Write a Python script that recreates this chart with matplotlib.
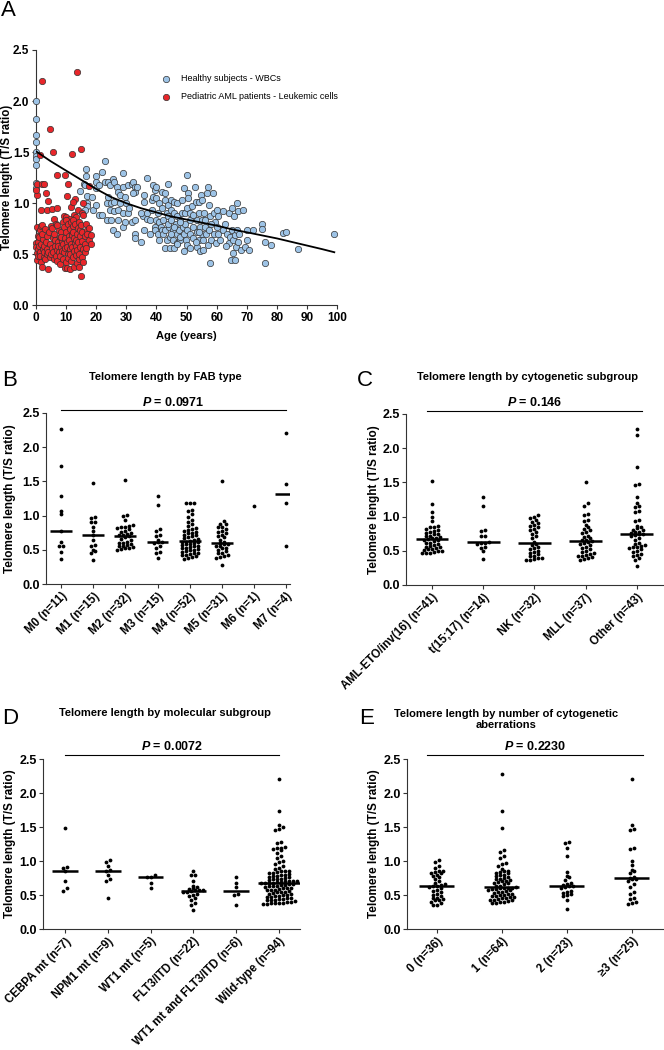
"""
Telomere length figure: age scatter (A) and per-subgroup dot plots (B-E).
"""
import numpy as np
import matplotlib
matplotlib.use("Agg")
import matplotlib.pyplot as plt

plt.rcParams["font.family"] = ["Liberation Sans", "DejaVu Sans"]
plt.rcParams["mathtext.fontset"] = "custom"
plt.rcParams["mathtext.it"] = "Liberation Sans:italic:bold"
plt.rcParams["mathtext.rm"] = "Liberation Sans:bold"

# ── Panel A: T/S ratio vs age ────────────────────────────────────────────────
healthy_points = [
    (0, 2.00), (0, 1.82), (0, 1.67), (0, 1.60), (0, 1.50), (0, 1.46), (0, 1.43),
    (0, 1.37), (0, 1.20), (0.2, 1.15),
    (14.7, 1.12), (16.7, 1.33), (16.7, 1.27), (16, 1.19), (16.5, 1.18), (17, 1.07),
    (17, 1.00), (17, 0.97), (16.5, 0.93), (19, 0.93), (20, 1.27), (20, 1.21),
    (20, 1.15), (20, 0.98), (18.5, 1.06), (21, 1.18),
    (22, 1.31), (23, 1.41), (23, 1.21), (21, 0.88), (22, 0.88), (23.5, 1.00),
    (24, 1.06), (24, 1.21), (24.6, 1.18), (25, 1.00), (24.6, 0.93), (23.5, 0.84),
    (25, 0.84), (25.7, 1.24), (26, 1.21), (27, 1.16), (26, 1.01), (26, 0.92),
    (25.7, 0.74), (27, 0.70),
    (27.4, 1.11), (28, 1.08), (28, 1.00), (27.4, 0.93), (27.4, 0.84), (29, 1.30),
    (29, 1.16), (29, 0.90), (29.6, 1.06), (29, 0.77), (30, 1.00), (29.6, 0.82),
    (30.7, 1.18), (30.7, 0.90), (31, 0.95),
    (32, 1.19), (32, 0.82), (32.4, 1.21), (33, 1.16), (33, 1.11), (33, 0.84),
    (33, 0.70), (33, 0.66), (33.5, 1.16), (32.4, 1.10), (35, 0.62), (35.7, 0.87),
    (36, 1.01), (36, 1.08), (36, 0.74), (35, 0.90),
    (37, 1.25), (37, 0.90), (37, 0.85), (38, 0.84), (38.5, 1.03), (38.5, 0.93),
    (39, 1.06), (39, 1.18), (39.6, 1.13), (40, 1.16), (39.6, 0.77), (39.6, 0.74),
    (40, 1.05), (40, 0.84), (40.7, 0.90), (40.7, 0.70), (41, 1.00), (41, 0.64),
    (41, 0.82), (41.4, 0.77), (41.8, 0.74), (42, 1.11), (42.3, 0.84), (42.3, 0.70),
    (42.7, 0.56), (43, 0.74), (43, 1.10), (43, 1.03), (43.4, 0.90), (43.4, 0.64),
    (44, 1.19), (44, 0.98), (44, 0.87), (44.3, 0.77), (44.5, 0.67), (44.5, 0.56),
    (44.9, 1.03), (38, 0.70), (42, 0.95), (44, 0.80),
    (45, 0.93), (45, 0.84), (45.6, 0.74), (45.6, 0.64), (46, 0.56), (46, 1.01),
    (46, 0.90), (46.5, 0.80), (46.7, 0.70), (46.7, 0.61), (47, 1.00), (47, 0.87),
    (47.6, 0.74), (47.8, 0.84), (47.8, 0.64), (48, 0.67), (48.4, 1.03), (48.4, 0.90),
    (48.7, 0.77), (49, 0.70), (49, 0.53), (49, 1.15), (49.5, 0.90), (49.5, 0.80),
    (49.8, 0.64), (50, 1.28), (50, 0.74), (50, 0.59), (46, 0.77), (48, 0.82),
    (50, 0.95), (47, 0.60), (45, 0.70),
    (50.6, 1.10), (50.6, 1.05), (51, 0.90), (51, 0.84), (51, 0.70), (51, 0.56),
    (51.7, 0.97), (52, 0.77), (52.3, 0.66), (52.8, 1.16), (53, 1.01), (53.4, 0.84),
    (53.4, 0.72), (53.4, 0.57), (54, 0.90), (54, 0.64), (54, 1.01), (54.5, 0.77),
    (54.5, 0.53), (54.8, 1.08), (55, 1.03), (55, 0.84), (55, 0.70), (55.4, 0.64),
    (55.6, 0.54), (55.8, 0.90), (56, 0.77), (56.5, 0.70), (56.7, 1.10), (57, 0.59),
    (57, 1.16), (57.6, 0.98), (57.6, 0.74), (57.8, 0.87), (57.8, 0.41), (58, 0.64),
    (58.7, 1.10), (59, 0.90), (59, 0.70), (59.4, 0.82), (59.8, 0.61), (60, 0.93),
    (60, 0.77), (52, 0.88), (54, 0.72), (56, 0.84), (58, 0.80), (53, 0.62),
    (60.6, 0.87), (60.6, 0.70), (61, 0.64), (62.2, 0.74), (62.8, 0.80), (63.3, 0.70),
    (64, 0.90), (64, 0.61), (64.4, 0.67), (64.6, 0.44), (65, 0.95), (65, 0.74),
    (65.3, 0.51), (65.5, 0.64), (65.9, 0.87), (66, 0.44), (66, 0.69), (66.4, 0.57),
    (66.6, 0.74), (66.9, 1.00), (67, 0.92), (67.5, 0.70), (68, 0.54), (68.6, 0.93),
    (69.4, 0.57), (70, 0.74), (70, 0.64), (70.8, 0.54), (62, 0.92), (63, 0.58),
    (67, 0.62),
    (72, 0.74), (75, 0.80), (75, 0.75), (76, 0.62), (76, 0.41), (78, 0.59),
    (82, 0.71), (83, 0.72), (87, 0.55), (99, 0.70),
]

aml_points = [
    (2.0, 2.20), (13.8, 2.28), (4.8, 1.73), (5.6, 1.50), (11.9, 1.48), (14.9, 1.53),
    (1.4, 1.47), (7.2, 1.28), (9.7, 1.28), (10.8, 1.19), (0.5, 1.19), (2.0, 1.19),
    (2.9, 1.19), (17.8, 1.17), (3.4, 1.10), (0.3, 1.08), (10.3, 1.07), (0.1, 1.13),
    (4.2, 1.02), (13.0, 1.04), (1.7, 0.93), (3.6, 0.93), (5.5, 0.94), (7.0, 0.95),
    (14.1, 0.93), (11.6, 0.96), (5.9, 0.85), (15.2, 0.90), (15.8, 1.00), (12.2, 1.01),
    (12.8, 0.88), (9.5, 0.87), (13.5, 0.86), (10.2, 0.86), (11.2, 0.85),
    (0.1, 0.61), (0.3, 0.51), (0.5, 0.77), (0.2, 0.57), (0.6, 0.55), (0.9, 0.62),
    (0.4, 0.44), (0.8, 0.48), (1.0, 0.58), (0.7, 0.68),
    (1.2, 0.67), (1.5, 0.74), (1.3, 0.52), (1.8, 0.42), (1.6, 0.60), (1.9, 0.78),
    (1.4, 0.48),
    (2.0, 0.79), (2.0, 0.38), (2.3, 0.55), (2.5, 0.65), (2.7, 0.47), (2.2, 0.70),
    (2.8, 0.58), (2.6, 0.52),
    (3.2, 0.75), (3.5, 0.62), (3.8, 0.55), (3.1, 0.45), (3.6, 0.50), (3.9, 0.68),
    (4.0, 0.36), (4.3, 0.72), (4.6, 0.60), (4.8, 0.47), (4.2, 0.52), (4.9, 0.78),
    (5.1, 0.50), (5.4, 0.56), (5.7, 0.66), (5.9, 0.45), (5.3, 0.76), (5.6, 0.52),
    (6.1, 0.70), (6.4, 0.58), (6.6, 0.48), (6.8, 0.80), (6.3, 0.64), (6.9, 0.54),
    (7.1, 0.43), (7.3, 0.62), (7.6, 0.74), (7.8, 0.52), (7.4, 0.58), (7.9, 0.67),
    (7.2, 0.79),
    (8.0, 0.40), (8.3, 0.57), (8.5, 0.72), (8.7, 0.63), (8.2, 0.48), (8.9, 0.82),
    (8.6, 0.53), (8.4, 0.67),
    (9.0, 0.60), (9.2, 0.45), (9.4, 0.77), (9.6, 0.66), (9.8, 0.37), (9.3, 0.52),
    (9.9, 0.84), (9.7, 0.56),
    (10.0, 0.72), (10.2, 0.42), (10.4, 0.62), (10.6, 0.80), (10.8, 0.50), (10.3, 0.57),
    (10.9, 0.68), (10.5, 0.37), (10.7, 0.46),
    (11.0, 0.64), (11.2, 0.55), (11.4, 0.75), (11.6, 0.43), (11.8, 0.82), (11.3, 0.36),
    (11.7, 0.60), (11.5, 0.50), (11.9, 0.69),
    (12.0, 0.57), (12.2, 0.78), (12.4, 0.47), (12.6, 0.66), (12.8, 0.38), (12.3, 0.84),
    (12.7, 0.53), (12.5, 0.72), (12.9, 0.61),
    (13.0, 0.80), (13.2, 0.49), (13.4, 0.58), (13.6, 0.70), (13.8, 0.41), (13.3, 0.64),
    (13.7, 0.54), (13.9, 0.76),
    (14.0, 0.62), (14.2, 0.45), (14.4, 0.82), (14.6, 0.57), (14.8, 0.68), (14.3, 0.38),
    (14.7, 0.74), (14.5, 0.50),
    (15.0, 0.79), (15.2, 0.47), (15.4, 0.63), (15.6, 0.55), (15.8, 0.88), (15.3, 0.72),
    (15.7, 0.42),
    (16.2, 0.68), (16.5, 0.60), (16.7, 0.80), (16.4, 0.52), (16.9, 0.74),
    (17.1, 0.70), (17.5, 0.64), (17.8, 0.76), (18.2, 0.69), (18.2, 0.60), (16.7, 0.56),
    (14.9, 0.29),
]

# fitted trend line
trend_age = [0, 5, 10, 15, 20, 25, 30, 35, 40, 45, 50, 55, 60, 65, 70, 75, 80, 85, 90, 95, 99]
trend_tsr = [1.51, 1.41, 1.32, 1.23, 1.14, 1.06, 1.00, 0.95, 0.91, 0.87, 0.84, 0.81,
             0.78, 0.745, 0.715, 0.685, 0.655, 0.62, 0.585, 0.55, 0.52]

# ── Panel B: FAB type ─────────────────────────────────────────────────────────
fab_labels = ["M0 (n=11)", "M1 (n=15)", "M2 (n=32)", "M3 (n=15)",
              "M4 (n=52)", "M5 (n=31)", "M6 (n=1)", "M7 (n=4)"]
fab_m0 = [2.27, 1.73, 1.28, 1.07, 1.02, 0.77, 0.62, 0.55, 0.55, 0.47, 0.37]
fab_m1 = [1.47, 0.98, 0.97, 0.91, 0.90, 0.84, 0.78, 0.72, 0.64, 0.57, 0.56, 0.50,
          0.48, 0.45, 0.35]
fab_m2 = [1.52, 1.01, 1.00, 0.94, 0.86, 0.85, 0.84, 0.84, 0.82, 0.80, 0.78, 0.76,
          0.74, 0.73, 0.72, 0.71, 0.70, 0.68, 0.66, 0.64, 0.62, 0.60, 0.60, 0.58,
          0.57, 0.56, 0.55, 0.54, 0.53, 0.52, 0.51, 0.50]
fab_m3 = [1.28, 1.16, 0.80, 0.78, 0.72, 0.70, 0.65, 0.62, 0.62, 0.60, 0.55, 0.53,
          0.47, 0.45, 0.38]
fab_m4 = [1.19, 1.19, 1.19, 1.08, 1.06, 1.02, 0.98, 0.93, 0.90, 0.88, 0.85, 0.82,
          0.80, 0.79, 0.78, 0.76, 0.75, 0.74, 0.72, 0.71, 0.70, 0.68, 0.67, 0.66,
          0.64, 0.63, 0.62, 0.62, 0.61, 0.60, 0.59, 0.58, 0.57, 0.56, 0.55, 0.54,
          0.53, 0.52, 0.51, 0.50, 0.49, 0.48, 0.47, 0.46, 0.45, 0.44, 0.43, 0.42,
          0.41, 0.40, 0.38, 0.37]
fab_m5 = [1.50, 0.92, 0.88, 0.87, 0.84, 0.83, 0.80, 0.78, 0.76, 0.74, 0.72, 0.70,
          0.68, 0.65, 0.62, 0.60, 0.59, 0.58, 0.56, 0.55, 0.53, 0.52, 0.50, 0.48,
          0.46, 0.45, 0.42, 0.41, 0.40, 0.38, 0.28]
fab_m6 = [1.14]
fab_m7 = [2.20, 1.46, 1.18, 0.56]

# ── Panel C: cytogenetic subgroup ─────────────────────────────────────────────
cyto_labels = ["AML-ETO/inv(16) (n=41)", "t(15;17) (n=14)", "NK (n=32)",
               "MLL (n=37)", "Other (n=43)"]
cyto_amleto = [1.52, 1.19, 1.07, 1.00, 0.94, 0.86, 0.85, 0.84, 0.82, 0.80, 0.79,
               0.78, 0.76, 0.75, 0.74, 0.72, 0.71, 0.70, 0.69, 0.68, 0.67, 0.66,
               0.65, 0.64, 0.62, 0.61, 0.60, 0.58, 0.57, 0.56, 0.55, 0.54, 0.53,
               0.52, 0.51, 0.50, 0.49, 0.48, 0.47, 0.46, 0.46]
cyto_t1517 = [1.28, 1.16, 0.80, 0.79, 0.72, 0.71, 0.63, 0.62, 0.61, 0.60, 0.56,
              0.54, 0.49, 0.38]
cyto_nk = [1.02, 1.00, 0.98, 0.95, 0.92, 0.90, 0.88, 0.86, 0.84, 0.82, 0.80, 0.78,
           0.75, 0.72, 0.68, 0.63, 0.60, 0.58, 0.56, 0.54, 0.52, 0.50, 0.48, 0.47,
           0.45, 0.43, 0.42, 0.40, 0.39, 0.38, 0.37, 0.36]
cyto_mll = [1.50, 1.20, 1.16, 1.04, 1.02, 0.95, 0.93, 0.88, 0.85, 0.82, 0.80, 0.78,
            0.76, 0.72, 0.70, 0.68, 0.66, 0.65, 0.64, 0.63, 0.62, 0.60, 0.58, 0.56,
            0.54, 0.52, 0.50, 0.48, 0.46, 0.45, 0.44, 0.43, 0.42, 0.41, 0.40, 0.38,
            0.37]
cyto_other = [2.28, 2.19, 1.73, 1.48, 1.46, 1.28, 1.20, 1.16, 1.14, 1.08, 1.07, 0.95,
              0.93, 0.86, 0.85, 0.83, 0.81, 0.80, 0.78, 0.77, 0.76, 0.75, 0.74, 0.73,
              0.71, 0.68, 0.65, 0.62, 0.60, 0.58, 0.57, 0.56, 0.55, 0.54, 0.52, 0.50,
              0.48, 0.45, 0.44, 0.42, 0.40, 0.36, 0.28]

# ── Panel D: molecular subgroup ───────────────────────────────────────────────
mol_labels = ["CEBPA mt (n=7)", "NPM1 mt (n=9)", "WT1 mt (n=5)", "FLT3/ITD (n=22)",
              "WT1 mt and FLT3/ITD (n=6)", "Wild-type (n=94)"]
mol_cebpa = [1.48, 0.91, 0.90, 0.85, 0.70, 0.60, 0.56]
mol_npm1 = [1.01, 0.99, 0.92, 0.87, 0.85, 0.80, 0.74, 0.70, 0.46]
mol_wt1 = [0.79, 0.77, 0.76, 0.67, 0.61]
mol_flt3 = [0.85, 0.80, 0.79, 0.71, 0.64, 0.62, 0.60, 0.59, 0.58, 0.57, 0.57, 0.56,
            0.55, 0.54, 0.52, 0.50, 0.48, 0.46, 0.42, 0.38, 0.36, 0.28]
mol_wt1_flt3 = [0.76, 0.68, 0.62, 0.51, 0.50, 0.36]
mol_wild = [2.20, 1.73, 1.53, 1.50, 1.47, 1.46, 1.28, 1.27, 1.20, 1.19, 1.19, 1.18,
            1.16, 1.12, 1.08, 1.05, 1.00, 0.98, 0.96, 0.92, 0.90, 0.88,
            0.86, 0.85, 0.85, 0.84, 0.83, 0.82, 0.81, 0.80, 0.79, 0.78, 0.78, 0.77,
            0.76, 0.75, 0.74, 0.74, 0.73, 0.72, 0.71, 0.71, 0.70, 0.70, 0.69, 0.69,
            0.68,
            0.68, 0.67, 0.67, 0.66, 0.66, 0.65, 0.65, 0.64, 0.63, 0.63, 0.62, 0.61,
            0.60, 0.60, 0.59, 0.58, 0.57, 0.57, 0.56, 0.55, 0.54, 0.54, 0.53, 0.52,
            0.51, 0.50, 0.50, 0.49, 0.48, 0.47, 0.47, 0.46, 0.45, 0.44, 0.44, 0.43,
            0.42, 0.42, 0.41, 0.40, 0.40, 0.39, 0.39, 0.38, 0.38, 0.37, 0.37]

# ── Panel E: number of cytogenetic aberrations ───────────────────────────────
aber_labels = ["0 (n=36)", "1 (n=64)", "2 (n=23)", "\u22653 (n=25)"]
aber_0 = [1.02, 0.99, 0.92, 0.90, 0.86, 0.85, 0.84, 0.83, 0.82, 0.80, 0.78, 0.76,
          0.73, 0.71, 0.68, 0.66, 0.65, 0.64, 0.63, 0.62, 0.60, 0.58, 0.56, 0.54,
          0.52, 0.50, 0.48, 0.46, 0.45, 0.44, 0.43, 0.42, 0.40, 0.38, 0.36, 0.35]
aber_1 = [2.28, 1.73, 1.48, 1.16, 1.14, 1.07, 1.04, 0.97, 0.95, 0.93, 0.88, 0.86,
          0.85, 0.84, 0.83, 0.82, 0.80, 0.79, 0.78, 0.77, 0.75, 0.74, 0.73, 0.72,
          0.71, 0.70, 0.69, 0.68, 0.67, 0.66, 0.64, 0.63, 0.62, 0.61, 0.61, 0.60,
          0.60, 0.59, 0.59, 0.58, 0.57, 0.56, 0.55, 0.54, 0.53, 0.52, 0.51, 0.50,
          0.50, 0.49, 0.48, 0.47, 0.47, 0.46, 0.45, 0.44, 0.43, 0.43, 0.42, 0.41,
          0.40, 0.40, 0.39, 0.38]
aber_2 = [1.28, 1.27, 1.19, 1.07, 0.84, 0.78, 0.76, 0.72, 0.68, 0.66, 0.65, 0.64,
          0.63, 0.62, 0.60, 0.56, 0.55, 0.53, 0.52, 0.50, 0.48, 0.43, 0.29]
aber_3 = [2.20, 1.53, 1.47, 1.46, 1.19, 1.18, 1.00, 0.94, 0.87, 0.86, 0.82, 0.77,
          0.75, 0.74, 0.73, 0.70, 0.66, 0.62, 0.55, 0.52, 0.46, 0.44, 0.40, 0.38,
          0.37]

BLUE = "#9DC3E6"
RED = "#E8262A"
EDGE = "#333333"
SPINE = "#333333"

fig = plt.figure(figsize=(6.64, 10.5), dpi=100)


def style_axes(ax, tick_size):
    for s in ("top", "right"):
        ax.spines[s].set_visible(False)
    for s in ("left", "bottom"):
        ax.spines[s].set_color(SPINE)
        ax.spines[s].set_linewidth(0.8)
    ax.tick_params(direction="out", length=3, width=0.8, color=SPINE,
                   labelsize=tick_size, pad=1.5)


def swarm_offsets(vals, dx, h):
    """GraphPad-like scatter: values within one row height sit side by side."""
    vals = np.asarray(vals, dtype=float)
    order = np.argsort(vals)
    offs = np.zeros(len(vals))
    rows, cur, start = [], [], None
    for idx in order:
        if cur and vals[idx] - start > h:
            rows.append(cur)
            cur = []
        if not cur:
            start = vals[idx]
        cur.append(idx)
    if cur:
        rows.append(cur)
    for row in rows:
        k = len(row)
        for j, idx in enumerate(row):
            offs[idx] = (j - (k - 1) / 2) * dx
    return offs


# ── A ─────────────────────────────────────────────────────────────────────────
axA = fig.add_axes([0.0538, 0.7092, 0.4542, 0.2432])
h_age, h_tsr = zip(*healthy_points)
a_age, a_tsr = zip(*aml_points)
sc_h = axA.scatter(h_age, h_tsr, s=21, color=BLUE, edgecolors=EDGE,
                   linewidths=0.5, zorder=3, clip_on=False)
sc_a = axA.scatter(a_age, a_tsr, s=21, color=RED, edgecolors=EDGE,
                   linewidths=0.5, zorder=4, clip_on=False)
axA.plot(trend_age, trend_tsr, color="black", lw=1.3, zorder=5)
axA.set_xlim(0, 100)
axA.set_ylim(0, 2.5)
axA.set_xticks(np.arange(0, 101, 10))
axA.set_yticks(np.arange(0, 2.51, 0.5))
axA.yaxis.set_major_formatter(matplotlib.ticker.FormatStrFormatter("%.1f"))
style_axes(axA, 8.5)
for lab in axA.get_xticklabels() + axA.get_yticklabels():
    lab.set_fontweight("bold")
axA.set_xlabel("Age (years)", fontsize=8, fontweight="bold")
axA.xaxis.set_label_coords(0.5, -0.1)
axA.set_ylabel("Telomere lenght (T/S ratio)", fontsize=8.3, fontweight="bold")
axA.yaxis.set_label_coords(-0.075, 0.5)
axA.legend([sc_h, sc_a],
           ["Healthy subjects - WBCs", "Pediatric AML patients - Leukemic cells"],
           loc="upper left", bbox_to_anchor=(0.4165, 0.905), frameon=False,
           fontsize=6.5, handlelength=1.1, handletextpad=1.05, borderpad=0,
           borderaxespad=0, labelspacing=1.0, scatterpoints=1)
fig.text(8 / 664, 1 - 11 / 1050, "A", fontsize=16, ha="center", va="center")


# ── B-E dot plots ─────────────────────────────────────────────────────────────
def dot_panel(rect, groups, labels, sp_px, ypx, xlim, pline, line_y, text_y,
              ptext, title, title_xy, ylabel, ylabel_x, letter, letter_xy, base_hw):
    ax = fig.add_axes(rect)
    dx = 4.0 / sp_px
    h = 3.2 / ypx
    for i, vals in enumerate(groups):
        offs = swarm_offsets(vals, dx, h)
        ax.scatter(i + offs, vals, s=7.5, color="black", linewidths=0, zorder=3,
                   clip_on=False)
        if len(vals) > 1:
            med = np.median(vals)
            hw = max(base_hw, np.abs(offs).max() + 0.7 * dx)
            ax.plot([i - hw, i + hw], [med, med], color="black", lw=1.8,
                    solid_capstyle="butt", zorder=4)
    ax.set_xlim(*xlim)
    ax.set_ylim(0, 2.5)
    style_axes(ax, 9)
    ax.set_yticks(np.arange(0, 2.51, 0.5))
    ax.yaxis.set_major_formatter(matplotlib.ticker.FormatStrFormatter("%.1f"))
    ax.set_xticks(range(len(groups)))
    ax.set_xticklabels(labels, rotation=45, ha="right", va="top",
                       rotation_mode="anchor", fontsize=8.3, fontweight="bold")
    ax.tick_params(axis="x", pad=1.5)
    for lab in ax.get_yticklabels():
        lab.set_fontweight("bold")
    ax.set_ylabel(ylabel, fontsize=8.5, fontweight="bold")
    ax.yaxis.set_label_coords(ylabel_x, 0.5)
    ax.plot(pline, [line_y, line_y], color="black", lw=0.8, clip_on=False)
    ax.text(np.mean(pline), text_y, ptext, fontsize=9, fontweight="bold",
            ha="center", va="center")
    ax.text(title_xy[0], title_xy[1], title, transform=ax.transAxes, fontsize=8,
            fontweight="bold", ha="center", va="center", linespacing=1.15)
    fig.text(letter_xy[0] / 664, 1 - letter_xy[1] / 1050, letter, fontsize=16,
             ha="center", va="center")
    return ax


dot_panel([0.0693, 0.4438, 0.3675, 0.1629],
          [fab_m0, fab_m1, fab_m2, fab_m3, fab_m4, fab_m5, fab_m6, fab_m7],
          fab_labels, 32.1, 68.4, (-0.467, 7.12), [0, 7], 2.54, 2.66,
          "$P$ = 0.0971", "Telomere length by FAB type", (0.488, 1.211),
          "Telomere length (T/S ratio)", -0.125, "B", (10, 381), 0.34)

dot_panel([0.6114, 0.4429, 0.3870, 0.1629],
          [cyto_amleto, cyto_t1517, cyto_nk, cyto_mll, cyto_other],
          cyto_labels, 51.25, 68.4, (-0.507, 4.51), [-0.1, 4.1], 2.54, 2.67,
          "$P$ = 0.146", "Telomere length by cytogenetic subgroup", (0.471, 1.216),
          "Telomere lenght (T/S ratio)", -0.1, "C", (365, 380), 0.32)

dot_panel([0.0648, 0.1152, 0.3870, 0.1619],
          [mol_cebpa, mol_npm1, mol_wt1, mol_flt3, mol_wt1_flt3, mol_wild],
          mol_labels, 42.8, 68.0, (-0.514, 5.49), [0, 5], 2.56, 2.69,
          "$P$ = 0.0072", "Telomere length by molecular subgroup", (0.475, 1.27),
          "Telomere length (T/S ratio)", -0.107, "D", (10, 718), 0.3)

dot_panel([0.6130, 0.1152, 0.3855, 0.1619],
          [aber_0, aber_1, aber_2, aber_3],
          aber_labels, 65.0, 68.0, (-0.46, 3.48), [-0.15, 3.17], 2.56, 2.69,
          "$P$ = 0.2230",
          "Telomere length by number of cytogenetic\naberrations", (0.387, 1.232),
          "Telomere length (T/S ratio)", -0.105, "E", (367, 719), 0.27)

fig.savefig("out.png", dpi=100)
